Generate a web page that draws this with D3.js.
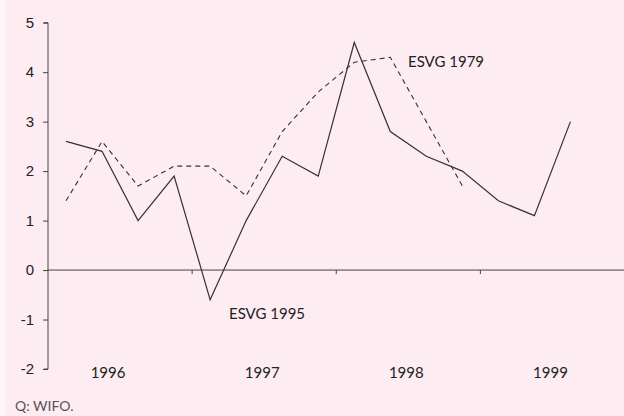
<!DOCTYPE html>
<meta charset="utf-8">
<style>
  body { margin: 0; background: #fdedf3; }
  svg { display: block; }
  .tick text { font-family: "Liberation Sans", Arial, sans-serif; font-size: 15px; fill: #222; }
  .lbl { font-family: "Lato", "DejaVu Sans", sans-serif; fill: #222; }
</style>
<body>
<svg width="624" height="416"></svg>
<script src="https://d3js.org/d3.v7.min.js"></script>
<script>
// quarters from 1996 Q1 to 1999 Q4
var quarters = ["1996Q1","1996Q2","1996Q3","1996Q4","1997Q1","1997Q2","1997Q3","1997Q4",
                "1998Q1","1998Q2","1998Q3","1998Q4","1999Q1","1999Q2","1999Q3","1999Q4"];
var years = ["1996", "1997", "1998", "1999"];
// ESVG 1995 (solid)
var esvg1995 = [2.6, 2.4, 1.0, 1.9, -0.6, 1.0, 2.3, 1.9, 4.6, 2.8, 2.3, 2.0, 1.4, 1.1, 3.0];
// ESVG 1979 (dashed)
var esvg1979 = [1.4, 2.6, 1.7, 2.1, 2.1, 1.5, 2.8, 3.6, 4.2, 4.3, 3.0, 1.7];
var yTicks = [-2, -1, 0, 1, 2, 3, 4, 5];

var svg = d3.select("svg");
var plotLeft = 48, plotRight = 624, plotTop = 22.7, plotBottom = 369;

var x = d3.scaleBand().domain(quarters).range([plotLeft, plotRight + 0.5]);
var yearX = d3.scaleBand().domain(years).range([plotLeft, plotRight + 0.5]);
var y = d3.scaleLinear().domain([-2, 5]).range([plotBottom, plotTop]);

// left white strip
svg.append("rect").attr("x", 0).attr("y", 0).attr("width", 6).attr("height", 416).attr("fill", "#fef5f8");

// y axis (plain hyphen for negatives, like the original)
var yAxis = svg.append("g")
    .attr("transform", "translate(" + plotLeft + ",0)")
    .call(d3.axisLeft(y).tickValues(yTicks).tickSize(5).tickPadding(9)
        .tickFormat(function(d) { return String(d); }));
yAxis.selectAll("path, line").attr("stroke", "#444");
yAxis.select(".domain").attr("d", "M-4," + plotTop + "H0V" + plotBottom + "H-4");

// zero line with year ticks
svg.append("line")
    .attr("x1", plotLeft).attr("x2", plotRight)
    .attr("y1", y(0)).attr("y2", y(0))
    .attr("stroke", "#444");
svg.selectAll(".yt").data(years.slice(1)).enter().append("line")
    .attr("x1", function(d) { return yearX(d); })
    .attr("x2", function(d) { return yearX(d); })
    .attr("y1", y(0)).attr("y2", y(0) + 4)
    .attr("stroke", "#444");

// year labels
svg.selectAll(".yl").data(years).enter().append("text")
    .attr("class", "lbl")
    .attr("x", function(d, i) { return yearX(d) + yearX.bandwidth() / 2 - (i === 0 ? 12 : 2); })
    .attr("y", 378)
    .attr("text-anchor", "middle")
    .style("font-size", "15px")
    .text(function(d) { return d; });

var line = d3.line()
    .x(function(d, i) { return x(quarters[i]) + x.bandwidth() / 2; })
    .y(function(d) { return y(d); });

svg.append("path").datum(esvg1979)
    .attr("d", line).attr("fill", "none")
    .attr("stroke", "#333").attr("stroke-width", 1.1)
    .attr("stroke-dasharray", "5,4");

svg.append("path").datum(esvg1995)
    .attr("d", line).attr("fill", "none")
    .attr("stroke", "#333").attr("stroke-width", 1.2);

// series labels
svg.append("text").attr("class", "lbl")
    .attr("x", 408).attr("y", 67)
    .style("font-size", "15px")
    .text("ESVG 1979");
svg.append("text").attr("class", "lbl")
    .attr("x", 229).attr("y", 319)
    .style("font-size", "15px")
    .text("ESVG 1995");

// source
svg.append("text").attr("class", "lbl")
    .attr("x", 15).attr("y", 411)
    .style("font-size", "14px").style("fill", "#555")
    .text("Q: WIFO.");
</script>
</body>
